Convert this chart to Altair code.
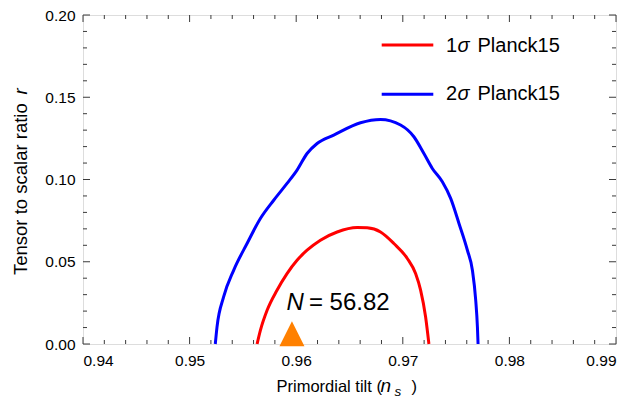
import altair as alt
import pandas as pd

# ---------------- data ----------------
blue_ns = [0.95241, 0.95257, 0.95319, 0.95413, 0.95539, 0.95664, 0.95789, 0.95914, 0.96008,
           0.96102, 0.96196, 0.96352, 0.96603, 0.96791, 0.96979, 0.97104, 0.97198, 0.97277,
           0.97371, 0.97449, 0.97527, 0.97606, 0.97653, 0.97684, 0.97700, 0.97706]
blue_r = [0.0, 0.0103, 0.0286, 0.0448, 0.0611, 0.0763, 0.0874, 0.0976, 0.1057,
          0.1158, 0.1219, 0.1270, 0.1345, 0.1365, 0.1331, 0.1260, 0.1158, 0.1067,
          0.0986, 0.0885, 0.0733, 0.0570, 0.0448, 0.0266, 0.0103, 0.0]

red_ns = [0.95633, 0.95664, 0.95727, 0.95820, 0.95914, 0.96008, 0.96102, 0.96227, 0.96384,
          0.96572, 0.96666, 0.96791, 0.96916, 0.97042, 0.97120, 0.97167, 0.97214, 0.97245]
red_r = [0.0, 0.0083, 0.0205, 0.0327, 0.0428, 0.0509, 0.0570, 0.0631, 0.0681,
         0.0708, 0.0706, 0.0681, 0.0611, 0.0520, 0.0428, 0.0327, 0.0164, 0.0]

point_ns = [0.9596]
point_r = [0.0062]

x_major = [0.94, 0.95, 0.96, 0.97, 0.98, 0.99]
x_minor = [0.942, 0.944, 0.946, 0.948, 0.952, 0.954, 0.956, 0.958, 0.962, 0.964, 0.966, 0.968,
           0.972, 0.974, 0.976, 0.978, 0.982, 0.984, 0.986, 0.988]
y_major = [0.0, 0.05, 0.10, 0.15, 0.20]
y_minor = [0.01, 0.02, 0.03, 0.04, 0.06, 0.07, 0.08, 0.09, 0.11, 0.12, 0.13, 0.14,
           0.16, 0.17, 0.18, 0.19]

series_names = ["1σ Planck15", "2σ Planck15"]
series_colors = ["#ff0000", "#0000ff"]

# ---------------- layout constants ----------------
W, H = 533, 329
FONT = "Liberation Sans"
FRAME = "#3a3a3a"

curves = pd.DataFrame(
    [{"series": series_names[0], "i": i, "ns": x, "r": y} for i, (x, y) in enumerate(zip(red_ns, red_r))]
    + [{"series": series_names[1], "i": i, "ns": x, "r": y} for i, (x, y) in enumerate(zip(blue_ns, blue_r))]
)

xscale = alt.Scale(domain=[0.94, 0.99], nice=False, zero=False)
yscale = alt.Scale(domain=[0.0, 0.20], nice=False, zero=False)

xaxis = alt.Axis(values=x_major, format=".2f", domain=False, ticks=False, grid=False,
                 labelFontSize=15.5, labelFont=FONT, labelColor="black", labelPadding=9,
                 title=None)
yaxis = alt.Axis(values=y_major, format=".2f", domain=False, ticks=False, grid=False,
                 labelFontSize=15.5, labelFont=FONT, labelColor="black", labelPadding=8,
                 title=None)

lines = alt.Chart(curves).mark_line(strokeWidth=3, strokeJoin="round", interpolate="monotone").encode(
    x=alt.X("ns:Q", scale=xscale, axis=xaxis),
    y=alt.Y("r:Q", scale=yscale, axis=yaxis),
    color=alt.Color("series:N", scale=alt.Scale(domain=series_names, range=series_colors), legend=None),
    order="i:Q",
    detail="series:N",
)

pt = alt.Chart(pd.DataFrame({"ns": point_ns, "r": point_r})).mark_point(
    shape="M-1,1L1,1L0,-1Z", size=625, filled=True, color="#ff8000", opacity=1, strokeWidth=0
).encode(x=alt.X("ns:Q", scale=xscale), y=alt.Y("r:Q", scale=yscale))

# ticks (inward, on all four sides)
def vticks(vals, length, top):
    df = pd.DataFrame({"v": vals})
    if top:
        return alt.Chart(df).mark_rule(color=FRAME, strokeWidth=1).encode(
            x=alt.X("v:Q", scale=xscale), y=alt.value(0), y2=alt.value(length))
    return alt.Chart(df).mark_rule(color=FRAME, strokeWidth=1).encode(
        x=alt.X("v:Q", scale=xscale), y=alt.value(H), y2=alt.value(H - length))

def hticks(vals, length, right):
    df = pd.DataFrame({"v": vals})
    if right:
        return alt.Chart(df).mark_rule(color=FRAME, strokeWidth=1).encode(
            y=alt.Y("v:Q", scale=yscale), x=alt.value(W), x2=alt.value(W - length))
    return alt.Chart(df).mark_rule(color=FRAME, strokeWidth=1).encode(
        y=alt.Y("v:Q", scale=yscale), x=alt.value(0), x2=alt.value(length))

ticks = [vticks(x_major, 7, False), vticks(x_minor, 4, False),
         vticks(x_major, 7, True), vticks(x_minor, 4, True),
         hticks(y_major, 7, False), hticks(y_minor, 4, False),
         hticks(y_major, 7, True), hticks(y_minor, 4, True)]

# annotation N = 56.82
ann_x = [0.95908]
ann_y = [0.0205]
ann_df = pd.DataFrame({"ns": ann_x, "r": ann_y})
ann_N = alt.Chart(ann_df).mark_text(text="N", font=FONT, fontSize=24, fontStyle="italic",
                                    align="left", baseline="alphabetic", color="black").encode(
    x=alt.X("ns:Q", scale=xscale), y=alt.Y("r:Q", scale=yscale))
ann_val = alt.Chart(ann_df).mark_text(text="= 56.82", font=FONT, fontSize=24, dx=22.5,
                                      align="left", baseline="alphabetic", color="black").encode(
    x=alt.X("ns:Q", scale=xscale), y=alt.Y("r:Q", scale=yscale))

# legend (drawn manually)
leg = []
for k, (ly, ty, num) in enumerate([(30, 37.3, "1"), (79.3, 85.0, "2")]):
    leg.append(alt.Chart(pd.DataFrame({"s": [series_names[k]]})).mark_rule(
        strokeWidth=3, color=series_colors[k]).encode(
        x=alt.value(298.7), x2=alt.value(350.3), y=alt.value(ly)))
    for txt, xx, style in [(num, 363, "normal"), ("σ", 374.5, "italic"), ("Planck15", 394.5, "normal")]:
        leg.append(alt.Chart(pd.DataFrame({"s": [series_names[k]]})).mark_text(
            text=txt, font=FONT, fontSize=20, fontStyle=style, align="left",
            baseline="alphabetic", color="black").encode(x=alt.value(xx), y=alt.value(ty)))

# axis titles (built from pieces to allow italic symbols)
def tpiece(txt, x, y, size, style="normal", angle=0):
    return alt.Chart(pd.DataFrame({"t": [txt]})).mark_text(
        text=txt, font=FONT, fontSize=size, fontStyle=style, align="left",
        baseline="alphabetic", color="black", angle=angle).encode(x=alt.value(x), y=alt.value(y))

titles = [
    tpiece("Primordial tilt (", 193.5, 376.7, 16.5),
    tpiece("n", 297.5, 376.7, 19, "italic"),
    tpiece("s", 311.5, 380.5, 13.5, "italic"),
    tpiece(")", 328.5, 376.7, 16.5),
    tpiece("Tensor to scalar ratio", -56.3, 260, 18.5, angle=270),
    tpiece("r", -56.3, 79.5, 18.5, "italic", angle=270),
]

chart = alt.layer(lines, *ticks, pt, ann_N, ann_val, *leg, *titles).properties(
    width=W, height=H,
    autosize=alt.AutoSizeParams(type="none"),
    padding={"left": 75, "top": 7, "right": 15, "bottom": 56},
).configure_view(stroke=FRAME, strokeWidth=1.3).configure(background="white")

chart.save("out.html", embed_options={"renderer": "svg", "actions": False})
